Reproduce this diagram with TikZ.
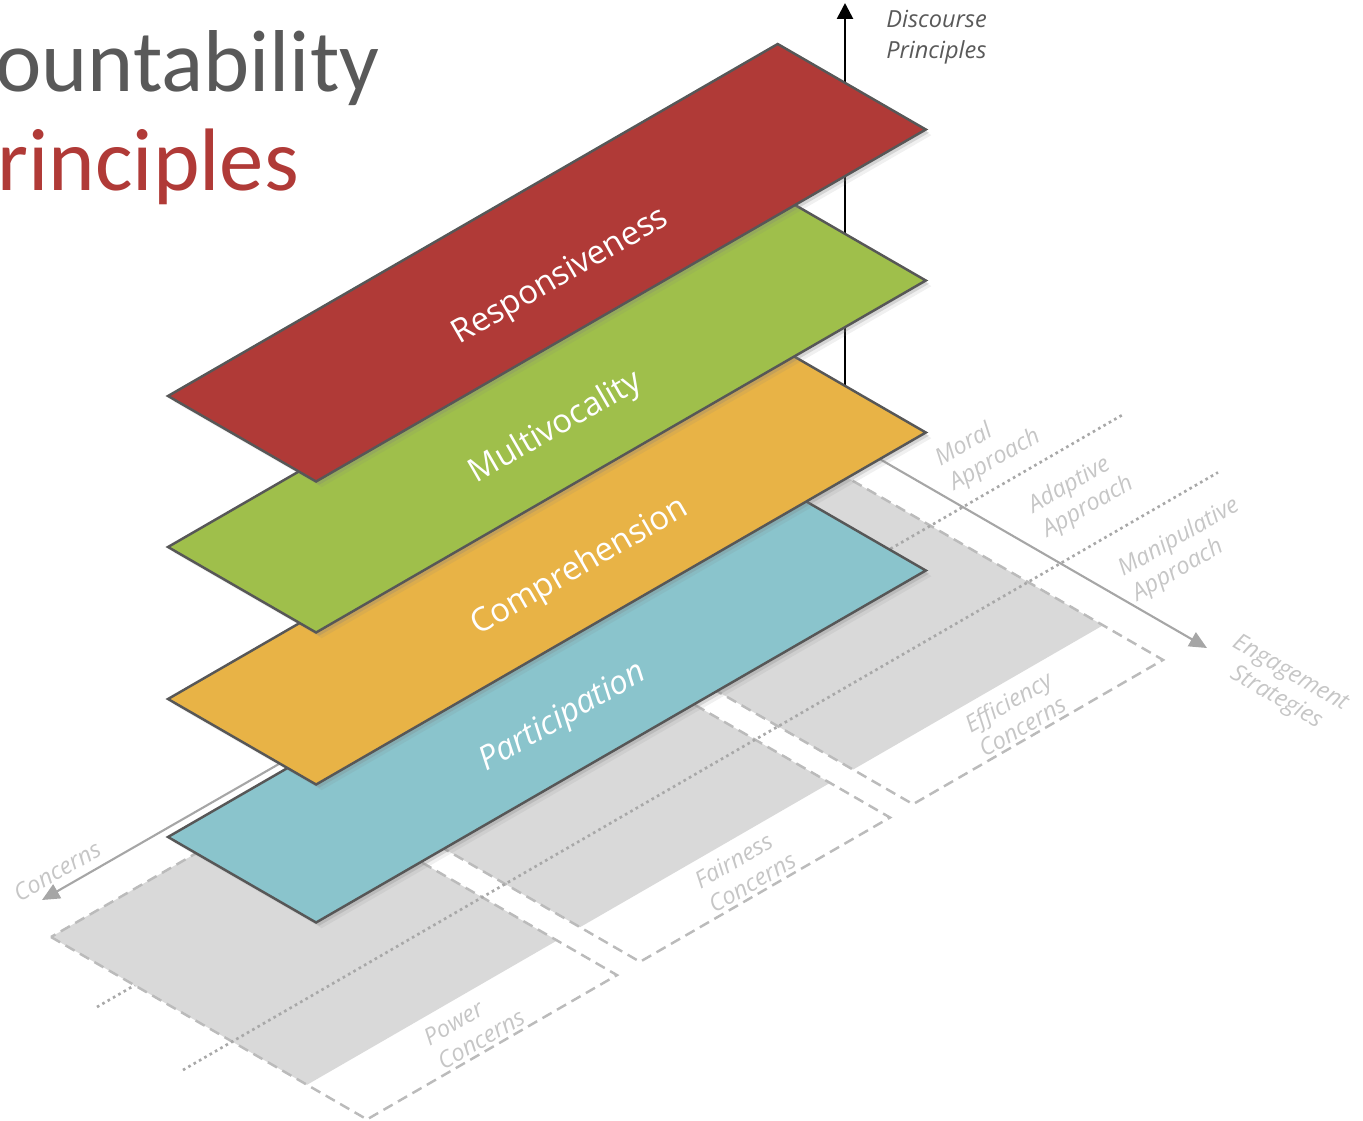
\documentclass[tikz,border=0pt]{standalone}
\usepackage{fontspec}
\setmainfont{Open Sans}
\newfontfamily\titlefont{Carlito}
\usetikzlibrary{shadows,arrows.meta}

\definecolor{respred}{HTML}{B03A37}
\definecolor{multigreen}{HTML}{9FBF4B}
\definecolor{comporange}{HTML}{E8B346}
\definecolor{partblue}{HTML}{8AC4CC}
\definecolor{edgegrey}{HTML}{575757}
\definecolor{basegrey}{HTML}{D9D9D9}
\definecolor{dashgrey}{HTML}{BBBBBB}
\definecolor{dotgrey}{HTML}{A8A8A8}
\definecolor{axisgrey}{HTML}{A6A6A6}
\definecolor{labelgrey}{HTML}{C6C6C6}
\definecolor{titlegrey}{HTML}{595959}

\tikzset{
  layer/.style={draw=edgegrey, line width=1.4pt,
    drop shadow={shadow xshift=3.2pt, shadow yshift=-3.2pt, opacity=0.12},
    drop shadow={shadow xshift=1.8pt, shadow yshift=-1.8pt, opacity=0.25}},
  layertext/.style={text=white, font=\fontsize{18.7}{22}\selectfont, rotate=30},
  basebox/.style={draw=dashgrey, line width=1.4pt, dash pattern=on 6pt off 3.5pt},
  basefill/.style={fill=basegrey},
  sepline/.style={draw=dotgrey, line width=1.5pt, dotted},
  greyaxis/.style={draw=axisgrey, line width=1.2pt, -{Triangle[length=10pt,width=9pt]}},
  baselabel/.style={text=labelgrey, font=\itshape\fontsize{13.4}{16}\selectfont, align=left, rotate=30, inner sep=0pt},
}

\begin{document}
\begin{tikzpicture}[x=0.02cm,y=-0.02cm]
            \useasboundingbox (0,0) rectangle (1363,1120);

            % base plane: concerns boxes, back to front
            \fill[basefill]  (597,621.8) -- ++(256,147.8) -- ++(250,-144.3) -- ++(-256,-147.8) -- cycle;
            \draw[basebox]   (597,621.8) -- ++(316,182.4) -- ++(250,-144.3) -- ++(-316,-182.4) -- cycle;

            \fill[basefill]  (324,779.4) -- ++(256,147.8) -- ++(250,-144.3) -- ++(-256,-147.8) -- cycle;
            \draw[basebox]   (324,779.4) -- ++(316,182.4) -- ++(250,-144.3) -- ++(-316,-182.4) -- cycle;

            \draw[sepline]   (97,1007) -- (1124,414);

            \fill[basefill]  (51,937) -- ++(256,147.8) -- ++(250,-144.3) -- ++(-256,-147.8) -- cycle;
            \draw[basebox]   (51,937) -- ++(316,182.4) -- ++(250,-144.3) -- ++(-316,-182.4) -- cycle;

            \draw[sepline]   (183,1070) -- (1218,472.4);

            % axes
            \coordinate (origin)  at (845,439);
            \coordinate (engtip)  at (1207,648);
            \coordinate (conctip) at (42,900);
            \coordinate (disctip) at (845,3);
            \draw[greyaxis] (origin) -- (engtip);
            \draw[greyaxis] (origin) -- (conctip);
            \draw[line width=1.5pt, -{Triangle[length=9pt,width=9pt]}] (origin) -- (disctip);

            % principle layers, bottom to top
            \filldraw[fill=partblue, layer]   (168,837) -- ++(148.1,85.5) -- ++(609.7,-352) -- ++(-148.1,-85.5) -- cycle;
            \filldraw[fill=comporange, layer] (168,699) -- ++(148.1,85.5) -- ++(609.7,-352) -- ++(-148.1,-85.5) -- cycle;
            \filldraw[fill=multigreen, layer] (168,547) -- ++(148.1,85.5) -- ++(609.7,-352) -- ++(-148.1,-85.5) -- cycle;
            \filldraw[fill=respred, layer]    (168,396) -- ++(148.1,85.5) -- ++(609.7,-352) -- ++(-148.1,-85.5) -- cycle;

            \node[layertext] (resp)   at (561,277) {Responsiveness};
            \node[layertext] (multi)  at (556,428) {Multivocality};
            \node[layertext] (compr)  at (580,567) {Comprehension};
            \node[layertext, font=\itshape\fontsize{18.7}{22}\selectfont] (partic) at (563,718) {Participation};

            % labels
            \node[baselabel] (power)      at (474,1027) {Power\\Concerns};
            \node[baselabel] (fairness)   at (745,870)  {Fairness\\Concerns};
            \node[baselabel] (efficiency) at (1015,714) {Efficiency\\Concerns};
            \node[baselabel] (moral)      at (988,448)  {Moral\\Approach};
            \node[baselabel] (adaptive)   at (1081,495) {Adaptive\\Approach};
            \node[baselabel] (manip)      at (1186,550) {Manipulative\\Approach};
            \node[baselabel] (concerns)   at (57,871)   {Concerns};
            \node[baselabel, rotate=-60, align=center] (engage) at (1283,686) {Engagement\\Strategies};
            \node[text=titlegrey, font=\itshape\fontsize{13.4}{17.6}\selectfont, align=left, anchor=west, inner sep=0pt] (discourse) at (886,37) {Discourse\\Principles};

            % title
            \node[text=titlegrey, font=\titlefont\fontsize{50}{60}\selectfont, anchor=base west, inner sep=0pt] (titleA) at (-5,91) {ountability};
            \node[text=respred, font=\titlefont\fontsize{50.5}{60}\selectfont, anchor=base west, inner sep=0pt] (titleB) at (-3,190) {rinciples};
        \end{tikzpicture}
\end{document}
